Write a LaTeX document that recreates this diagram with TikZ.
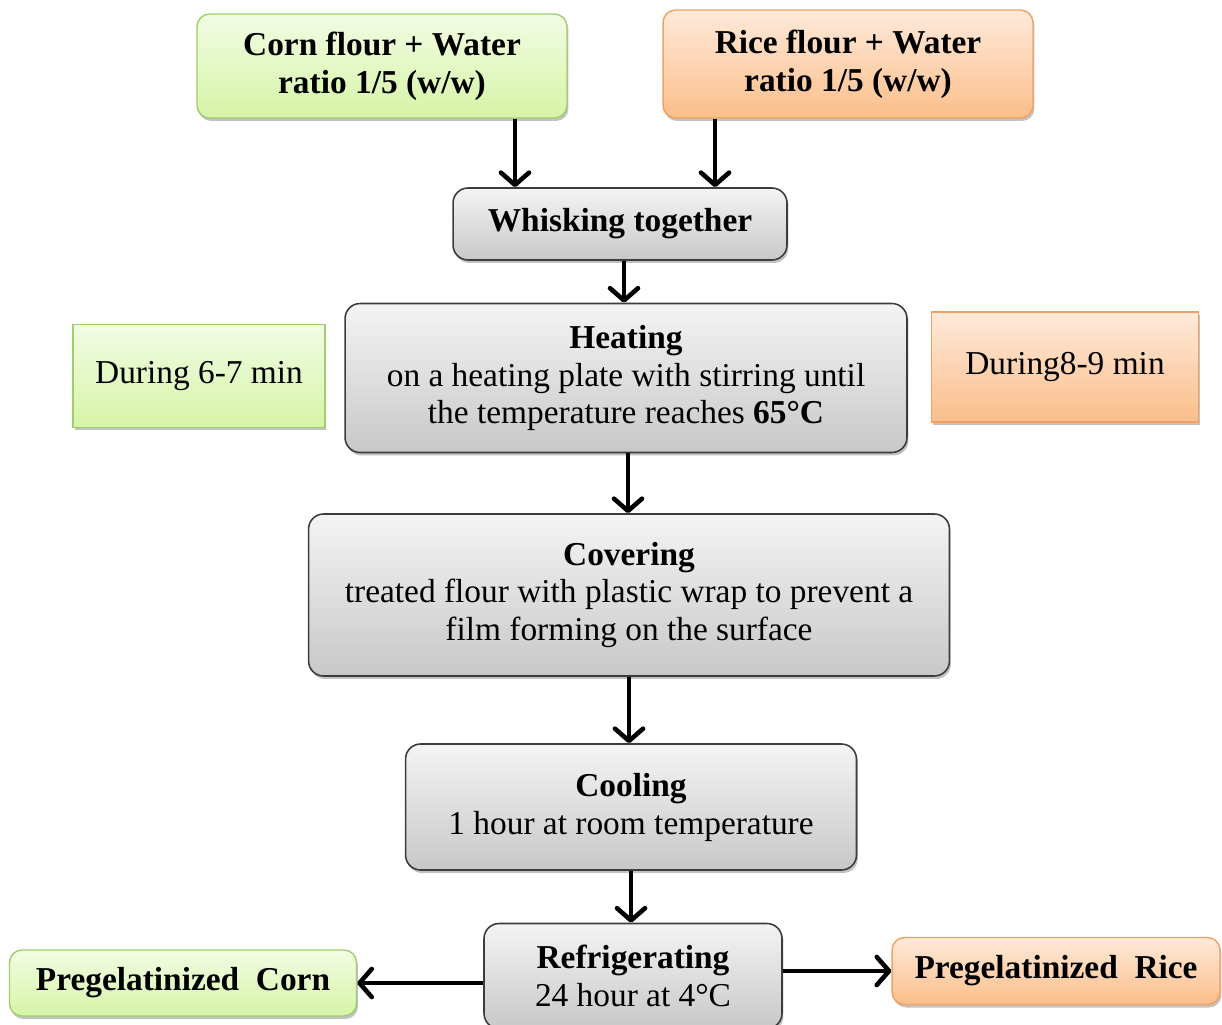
\documentclass[tikz,border=0pt]{standalone}
\usepackage{fontspec}
\setmainfont{Liberation Serif}
\usepackage{tikz}
\usetikzlibrary{arrows.meta, positioning, calc, shadows}
\definecolor{greentop}{RGB}{242, 252, 228}
\definecolor{greenbot}{RGB}{214, 244, 166}
\definecolor{greenline}{RGB}{160, 205, 110}
\definecolor{orangetop}{RGB}{254, 234, 218}
\definecolor{orangebot}{RGB}{251, 190, 138}
\definecolor{orangeline}{RGB}{244, 160, 95}
\definecolor{graytop}{RGB}{244, 244, 244}
\definecolor{graybot}{RGB}{200, 200, 200}
\definecolor{grayline}{RGB}{60, 60, 60}
\definecolor{shadowgray}{RGB}{120, 120, 120}

\tikzset{
    boxbase/.style={align=center, inner sep=2pt, font=\fontsize{19}{21.6}\selectfont,
        drop shadow={shadow xshift=0.03cm, shadow yshift=-0.06cm, opacity=0.45, fill=shadowgray}},
    greenbox/.style={boxbase, top color=greentop, bottom color=greenbot, draw=greenline, line width=0.8pt, rounded corners=0.25cm},
    orangebox/.style={boxbase, top color=orangetop, bottom color=orangebot, draw=orangeline, line width=0.8pt, rounded corners=0.25cm},
    graybox/.style={boxbase, top color=graytop, bottom color=graybot, draw=grayline, line width=0.9pt, rounded corners=0.3cm},
    flow/.style={-{Straight Barb[length=7pt, width=16pt, line join=round, line cap=round]}, line width=2.6pt, black}
}

\begin{document}
\begin{tikzpicture}[x=0.02cm, y=-0.02cm]
    % Frame
    \useasboundingbox (0,0) rectangle (1222,1024);

    % Inputs
    \node[greenbox, minimum width=7.4cm, minimum height=2.08cm] (corn) at (382,66) {\textbf{Corn flour + Water}\\\textbf{ratio 1/5 (w/w)}};
    \node[orangebox, minimum width=7.4cm, minimum height=2.16cm] (rice) at (848,64) {\textbf{Rice flour + Water}\\\textbf{ratio 1/5 (w/w)}};

    % Steps
    \node[graybox, minimum width=6.68cm, minimum height=1.44cm] (whisk) at (620,224) {\textbf{Whisking together}};
    \node[graybox, minimum width=11.24cm, minimum height=2.98cm] (heat) at (626,378) {\textbf{Heating}\\on a heating plate with stirring until\\the temperature reaches \textbf{65°C}};
    \node[graybox, minimum width=12.82cm, minimum height=3.24cm] (cover) at (629,595) {\textbf{Covering}\\treated flour with plastic wrap to prevent a\\film forming on the surface};
    \node[graybox, minimum width=9.02cm, minimum height=2.52cm] (cool) at (631,807) {\textbf{Cooling}\\1 hour at room temperature};
    \node[graybox, minimum width=5.96cm, minimum height=2.1cm] (fridge) at (633,976) {\textbf{Refrigerating}\\24 hour at 4°C};

    % Heating times
    \node[greenbox, rounded corners=0pt, minimum width=5.04cm, minimum height=2.06cm] (corntime) at (199,376) {During 6-7 min};
    \node[orangebox, rounded corners=0pt, minimum width=5.34cm, minimum height=2.2cm] (ricetime) at (1065,367) {During8-9 min};

    % Products
    \node[greenbox, minimum width=6.94cm, minimum height=1.32cm] (pgcorn) at (183,983) {\textbf{Pregelatinized\ \ Corn}};
    \node[orangebox, minimum width=6.56cm, minimum height=1.34cm] (pgrice) at (1056,971) {\textbf{Pregelatinized\ \ Rice}};

    % Arrows
    \draw[flow] ([xshift=2.66cm]corn.south) -- ([xshift=2.66cm]corn.south |- whisk.north);
    \draw[flow] ([xshift=-2.66cm]rice.south) -- ([xshift=-2.66cm]rice.south |- whisk.north);
    \draw[flow] ([xshift=0.08cm]whisk.south) -- ([xshift=0.08cm]whisk.south |- heat.north);
    \draw[flow] ([xshift=0.04cm]heat.south) -- ([xshift=0.04cm]heat.south |- cover.north);
    \draw[flow] (cover.south) -- (cover.south |- cool.north);
    \draw[flow] (cool.south) -- (cool.south |- fridge.north);
    \draw[flow] (fridge.west |- pgcorn) -- (pgcorn.east);
    \draw[flow] (fridge.east |- pgrice) -- (pgrice.west);
\end{tikzpicture}
\end{document}
